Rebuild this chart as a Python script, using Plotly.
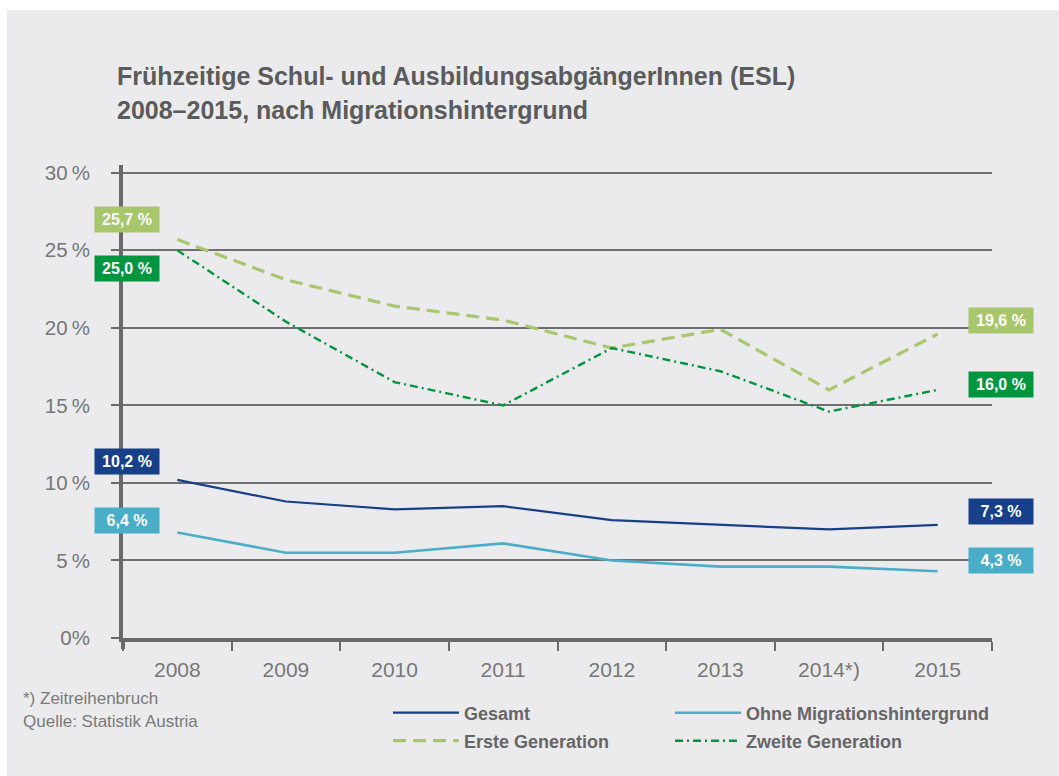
import plotly.graph_objects as go

years = ["2008", "2009", "2010", "2011", "2012", "2013", "2014*)", "2015"]
gesamt = [10.2, 8.8, 8.3, 8.5, 7.6, 7.3, 7.0, 7.3]
ohne = [6.8, 5.5, 5.5, 6.1, 5.0, 4.6, 4.6, 4.3]
erste = [25.7, 23.1, 21.4, 20.5, 18.7, 19.9, 16.0, 19.6]
zweite = [25.0, 20.4, 16.5, 15.0, 18.7, 17.2, 14.6, 16.0]

series_names = ["Gesamt", "Ohne Migrationshintergrund", "Erste Generation", "Zweite Generation"]
start_labels = ["10,2 %", "6,4 %", "25,7 %", "25,0 %"]
end_labels = ["7,3 %", "4,3 %", "19,6 %", "16,0 %"]

y_tickvals = [0, 5, 10, 15, 20, 25, 30]
y_ticktext = ["0%", "5\u2009%", "10\u2009%", "15\u2009%", "20\u2009%", "25\u2009%", "30\u2009%"]

colors = ["#173f8a", "#4aaec8", "#a8c66c", "#00963f"]
dashes = ["solid", "solid", "13px,7px", "8px,4px,2px,4px"]
widths = [2.2, 2.6, 3.2, 2.4]
legends = ["legend", "legend2", "legend3", "legend4"]
start_shift = [18, 12, 20, -18]
end_shift = [13, 11, 14, 5]

data = [gesamt, ohne, erste, zweite]

fig = go.Figure()
for name, vals, c, d, w, lg in zip(series_names, data, colors, dashes, widths, legends):
    fig.add_trace(go.Scatter(
        x=years, y=vals, mode="lines", name=name,
        line=dict(color=c, dash=d, width=w), legend=lg,
        hoverinfo="skip",
    ))

first_idx = 0
last_idx = len(years) - 1
box_font = dict(family="Liberation Sans, Arial", size=16, color="white")
annotations = []
for vals, c, sl, el, ss, es in zip(data, colors, start_labels, end_labels, start_shift, end_shift):
    annotations.append(dict(
        x=first_idx, y=vals[first_idx], xref="x", yref="y", text="<b>" + sl + "</b>",
        showarrow=False, xshift=-50, yshift=ss, bgcolor=c, width=62, height=23,
        font=box_font, xanchor="center", yanchor="middle",
    ))
    annotations.append(dict(
        x=last_idx, y=vals[last_idx], xref="x", yref="y", text="<b>" + el + "</b>",
        showarrow=False, xshift=63, yshift=es, bgcolor=c, width=62, height=23,
        font=box_font, xanchor="center", yanchor="middle",
    ))

# plot area pixel geometry: x 123..992, y 165..638
def px_x(p):
    return (p - 123) / 869.0

def px_y(p):
    return (638 - p) / 473.0

title_font = dict(family="Liberation Sans, Arial", size=25, color="#5b5b5b")
annotations.append(dict(
    x=px_x(115), y=px_y(76), xref="paper", yref="paper", xanchor="left", yanchor="middle",
    text="<b>Frühzeitige Schul- und AusbildungsabgängerInnen (ESL)</b>",
    showarrow=False, font=title_font,
))
annotations.append(dict(
    x=px_x(115), y=px_y(110), xref="paper", yref="paper", xanchor="left", yanchor="middle",
    text="<b>2008–2015, nach Migrationshintergrund</b>",
    showarrow=False, font=title_font,
))
foot_font = dict(family="Liberation Sans, Arial", size=17, color="#7a7a7a")
annotations.append(dict(
    x=px_x(21), y=px_y(698), xref="paper", yref="paper", xanchor="left", yanchor="middle",
    text="*) Zeitreihenbruch", showarrow=False, font=foot_font,
))
annotations.append(dict(
    x=px_x(21), y=px_y(721), xref="paper", yref="paper", xanchor="left", yanchor="middle",
    text="Quelle: Statistik Austria", showarrow=False, font=foot_font,
))

shapes = [
    dict(
        type="rect", xref="paper", yref="paper", layer="below",
        x0=px_x(7), x1=px_x(1070), y0=px_y(10), y1=px_y(790),
        fillcolor="#ebebed", line=dict(width=0),
    ),
    dict(
        type="line", xref="paper", yref="paper",
        x0=0, x1=0, y0=0, y1=px_y(649),
        line=dict(color="#6a6a6a", width=4),
    ),
]

legend_font = dict(family="Liberation Sans, Arial", size=18, color="#666666", weight="bold")
legend_common = dict(
    orientation="h", xanchor="left", yanchor="middle", itemwidth=66,
    font=legend_font, bgcolor="rgba(0,0,0,0)",
)

fig.update_layout(
    width=1059, height=776,
    margin=dict(l=123, r=67, t=165, b=138, autoexpand=False),
    paper_bgcolor="white", plot_bgcolor="rgba(0,0,0,0)",
    showlegend=True,
    annotations=annotations,
    shapes=shapes,
    legend=dict(x=px_x(388), y=px_y(713), **legend_common),
    legend2=dict(x=px_x(670), y=px_y(713), **legend_common),
    legend3=dict(x=px_x(388), y=px_y(741), **legend_common),
    legend4=dict(x=px_x(670), y=px_y(741), **legend_common),
    xaxis=dict(
        type="category", range=[-0.5, 7.5], tickson="boundaries",
        ticks="outside", ticklen=9, tickwidth=2, tickcolor="#6a6a6a",
        ticklabelstandoff=10,
        showline=True, linecolor="#6a6a6a", linewidth=4,
        showgrid=False, zeroline=False,
        tickfont=dict(family="Liberation Sans, Arial", size=21, color="#777777"),
        fixedrange=True,
    ),
    yaxis=dict(
        range=[0, 30.5], tickvals=y_tickvals, ticktext=y_ticktext,
        ticks="outside", ticklen=8, tickwidth=2, tickcolor="#6a6a6a",
        ticklabelstandoff=17,
        showline=True, linecolor="#6a6a6a", linewidth=4,
        showgrid=True, gridcolor="#6f6f6f", gridwidth=1.5,
        zeroline=False,
        tickfont=dict(family="Liberation Sans, Arial", size=20.5, color="#777777"),
        fixedrange=True,
    ),
)

fig.write_html("out.html", post_script="document.body.style.margin='0';",
               config={"displayModeBar": False})
